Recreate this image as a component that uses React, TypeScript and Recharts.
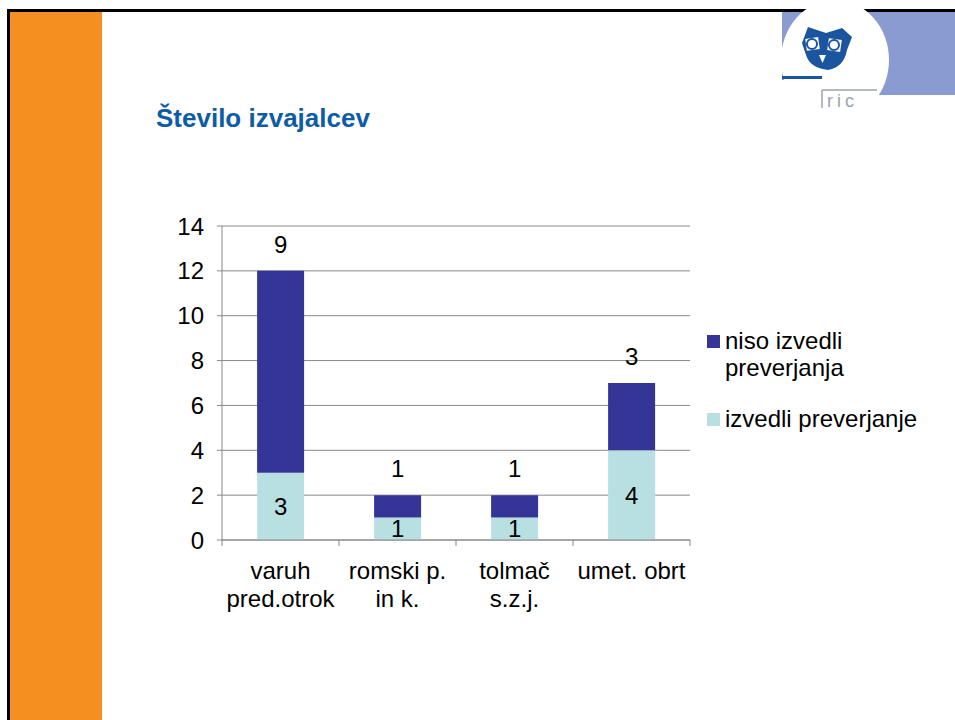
import React from 'react';
import { BarChart, Bar, XAxis, YAxis, CartesianGrid, LabelList } from 'recharts';

const categories = ['varuh\npred.otrok', 'romski p.\nin k.', 'tolmač\ns.z.j.', 'umet. obrt'];
const izvedli = [3, 1, 1, 4];
const nisoIzvedli = [9, 1, 1, 3];
const yTicks = [0, 2, 4, 6, 8, 10, 12, 14];

const seriesNames = ['niso izvedli\npreverjanja', 'izvedli preverjanje'];
const DARK = '#353598';
const LIGHT = '#b8e0e2';
const FONT = '"Liberation Sans", Arial, sans-serif';
const FS = 24;

const data = categories.map((c, i) => ({ name: c, izvedli: izvedli[i], niso: nisoIzvedli[i] }));

// plot box
const PLOT_LEFT = 222;
const PLOT_RIGHT = 690;
const PLOT_TOP = 226;
const PLOT_BOTTOM = 540;
const BAND = (PLOT_RIGHT - PLOT_LEFT) / categories.length;

const CategoryTick = (props: any) => {
  const { x, y, payload, index } = props;
  const lines = String(payload.value).split('\n');
  return (
    <g>
      <line x1={x - BAND / 2} y1={PLOT_BOTTOM} x2={x - BAND / 2} y2={PLOT_BOTTOM + 6} stroke="#888" />
      {index === categories.length - 1 && (
        <line x1={x + BAND / 2} y1={PLOT_BOTTOM} x2={x + BAND / 2} y2={PLOT_BOTTOM + 6} stroke="#888" />
      )}
      <text x={x} y={y} textAnchor="middle" fontSize={FS} fontFamily={FONT} fill="#000">
        {lines.map((l, i) => (
          <tspan key={i} x={x} dy={i === 0 ? 31 : 28}>{l}</tspan>
        ))}
      </text>
    </g>
  );
};

const Logo = () => (
  <svg width={955} height={720} style={{ position: 'absolute', left: 0, top: 0 }}>
    <rect x={782} y={12} width={173} height={68} fill="#8a9bd2" />
    <rect x={860} y={12} width={95} height={83} fill="#8a9bd2" />
    <ellipse cx={835} cy={60} rx={54} ry={60} fill="#fff" />
    <rect x={782} y={76} width={40} height={3} fill="#1b55a0" />
    {/* owl */}
    <path d="M808 27 L826 33 L842 28 L852 37 L847 50 Q844 67 828 70 Q810 68 806 55 L802 43 Z" fill="#1b55a0" />
    <rect x={806} y={38} width={13} height={12} fill="#fff" transform="rotate(-8 812 44)" />
    <rect x={828} y={39} width={13} height={12} fill="#fff" transform="rotate(8 834 45)" />
    <circle cx={812} cy={44} r={5} fill="none" stroke="#1b55a0" strokeWidth={2} />
    <circle cx={834} cy={45} r={5} fill="none" stroke="#1b55a0" strokeWidth={2} />
    <path d="M819 55 L826 55 L822.5 63 Z" fill="#fff" />
    {/* ric */}
    <line x1={822} y1={90} x2={877} y2={90} stroke="#9aa3b0" strokeWidth={1.5} />
    <line x1={822} y1={90} x2={822} y2={108} stroke="#9aa3b0" strokeWidth={1.5} />
    <text x={827} y={107} fontSize={18} fontFamily={FONT} fill="#9aa3b0" letterSpacing={4}>ric</text>
  </svg>
);

const legendItems = [
  { name: seriesNames[0], color: DARK, top: 327 },
  { name: seriesNames[1], color: LIGHT, top: 405 },
];

export default function App() {
  return (
    <div style={{ position: 'absolute', left: 0, top: 0, width: 955, height: 720, background: '#fff', overflow: 'hidden', fontFamily: FONT }}>
      {/* slide frame */}
      <div style={{ position: 'absolute', left: 7, top: 9, width: 948, height: 3, background: '#000' }} />
      <div style={{ position: 'absolute', left: 7, top: 9, width: 3, height: 711, background: '#000' }} />
      <div style={{ position: 'absolute', left: 10, top: 12, width: 92, height: 708, background: '#f58f20' }} />
      <Logo />
      <div style={{ position: 'absolute', left: 156, top: 103, fontSize: 26, fontWeight: 'bold', color: '#0d5ca5', lineHeight: '30px' }}>
        Število izvajalcev
      </div>

      <div style={{ position: 'absolute', left: 0, top: 0 }}>
        <BarChart
          width={955}
          height={720}
          data={data}
          margin={{ top: PLOT_TOP, right: 955 - PLOT_RIGHT, bottom: 720 - PLOT_BOTTOM - 80, left: 0 }}
          barCategoryGap="30%"
        >
          <CartesianGrid horizontal vertical={false} stroke="#888" />
          <XAxis
            dataKey="name"
            height={80}
            interval={0}
            tickLine={false}
            axisLine={{ stroke: '#888' }}
            tick={<CategoryTick />}
          />
          <YAxis
            width={PLOT_LEFT}
            domain={[0, 14]}
            ticks={yTicks}
            interval={0}
            tickSize={5}
            tickMargin={13}
            tickLine={{ stroke: '#888' }}
            axisLine={{ stroke: '#888' }}
            tick={{ fontSize: FS, fill: '#000', fontFamily: FONT }}
          />
          <Bar dataKey="izvedli" stackId="a" fill={LIGHT} isAnimationActive={false}>
            <LabelList dataKey="izvedli" position="center" fontSize={FS} fill="#000" fontFamily={FONT} />
          </Bar>
          <Bar dataKey="niso" stackId="a" fill={DARK} isAnimationActive={false}>
            <LabelList dataKey="niso" position="top" offset={18} fontSize={FS} fill="#000" fontFamily={FONT} />
          </Bar>
        </BarChart>
      </div>

      {legendItems.map((it) => (
        <div key={it.name} style={{ position: 'absolute', left: 707, top: it.top, fontSize: FS, lineHeight: '27px', color: '#000' }}>
          <div style={{ position: 'absolute', left: 0, top: 8, width: 13, height: 13, background: it.color }} />
          <div style={{ marginLeft: 18, whiteSpace: 'pre' }}>{it.name}</div>
        </div>
      ))}
    </div>
  );
}
